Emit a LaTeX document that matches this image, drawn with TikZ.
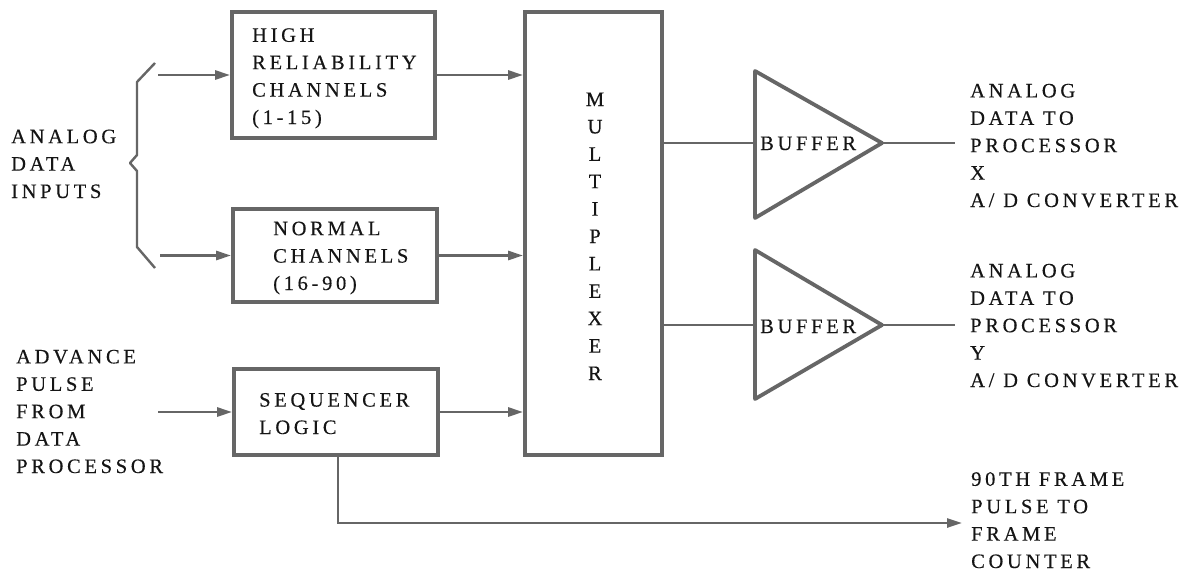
\documentclass[tikz,border=0pt]{standalone}
\usepackage{fontspec}
\setmainfont{Liberation Serif}[LetterSpace=18,FakeBold=0.35]
\usetikzlibrary{arrows.meta}
\definecolor{ink}{HTML}{666666}
\definecolor{txt}{HTML}{151515}
\begin{document}
\begin{tikzpicture}[x=1pt,y=-1pt,
  box/.style={draw=ink, line width=3.8pt, inner sep=0pt},
  conn/.style={draw=ink, line width=2.6pt},
  arr/.style={conn, -{Triangle[length=15pt,width=9pt]}},
  lbl/.style={text=txt, font=\fontsize{20.5}{27.4}\selectfont, align=left, anchor=base west, inner sep=0pt},
]
\useasboundingbox[fill=white] (0,0) rectangle (1193,573);

% boxes
\node[box, minimum width=203pt, minimum height=126pt] (hr) at (333.5,75) {};
\node[box, minimum width=204pt, minimum height=93pt] (norm) at (335,255.5) {};
\node[box, minimum width=204pt, minimum height=86pt] (seq) at (336,412) {};
\node[box, minimum width=137pt, minimum height=443pt] (mux) at (593.5,233.5) {};

% box texts (anchored at the baseline of their last line)
\node[lbl] (hrt) at (252,124) {HIGH\\RELIABILITY\\CHANNELS\\(1-15)};
\node[lbl] (normt) at (273,290) {NORMAL\\CHANNELS\\(16-90)};
\node[lbl] (seqt) at (259,434) {SEQUENCER\\LOGIC};
\node[lbl, align=center, anchor=base] (muxt) at (595,380) {M\\U\\L\\T\\I\\P\\L\\E\\X\\E\\R};

% left labels
\node[lbl] (ain) at (11,198) {ANALOG\\DATA\\INPUTS};
\node[lbl] (adv) at (16,473) {ADVANCE\\PULSE\\FROM\\DATA\\PROCESSOR};

% brace
\draw[conn, line width=2.4pt, line join=round] (155,63) -- (137,82) -- (137,155) -- (130,163) -- (137,171) -- (137,247) -- (155,268);

% inputs
\coordinate (in1) at (158,75);
\coordinate (in2) at (160,255.5);
\coordinate (in3) at (158,412);
\draw[arr] (in1) -- (hr.west);
\draw[arr] (in2) -- (norm.west);
\draw[arr] (in3) -- (seq.west);

% to multiplexer
\draw[arr] (hr.east) -- (mux.west |- hr.east);
\draw[arr] (norm.east) -- (mux.west |- norm.east);
\draw[arr] (seq.east) -- (mux.west |- seq.east);

% buffers
\coordinate (b1w) at (755,143);
\coordinate (b1e) at (882,143);
\coordinate (b2w) at (755,325);
\coordinate (b2e) at (882,325);
\draw[box, line join=round] (755,71) -- (b1e) -- (755,218) -- cycle;
\draw[box, line join=round] (755,250) -- (b2e) -- (755,399) -- cycle;
\node[lbl] (b1t) at (760,150) {BUFFER};
\node[lbl] (b2t) at (760,333) {BUFFER};
\draw[conn] (mux.east |- b1w) -- (b1w);
\draw[conn] (mux.east |- b2w) -- (b2w);
\coordinate (o1) at (955,143);
\coordinate (o2) at (955,325);
\draw[conn] (b1e) -- (o1);
\draw[conn] (b2e) -- (o2);

% outputs
\node[lbl] (ox) at (970,207) {ANALOG\\DATA TO\\PROCESSOR\\X\\A/ D CONVERTER};
\node[lbl] (oy) at (970,387) {ANALOG\\DATA TO\\PROCESSOR\\Y\\A/ D CONVERTER};

% frame pulse
\coordinate (fp) at (962,523);
\draw[arr] ([xshift=2pt]seq.south) |- (fp);
\node[lbl] (fpt) at (971,568) {90TH FRAME\\PULSE TO\\FRAME\\COUNTER};
\end{tikzpicture}
\end{document}
